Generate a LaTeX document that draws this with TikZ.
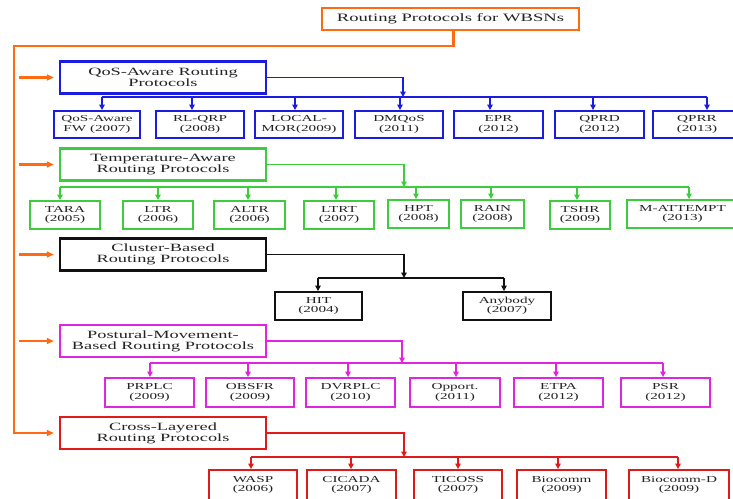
\documentclass[tikz,border=0pt]{standalone}
\usepackage{fontspec}
\setmainfont[FakeStretch=1.65]{Liberation Serif}
\usetikzlibrary{arrows.meta}
\definecolor{cor}{HTML}{FF6A13}
\definecolor{cbl}{HTML}{1C1CE0}
\definecolor{cgr}{HTML}{3ECB3E}
\definecolor{cbk}{HTML}{111111}
\definecolor{cmg}{HTML}{E024E0}
\definecolor{crd}{HTML}{E01A1A}
\definecolor{ctx}{HTML}{222222}
\newcommand\kidbox[7]{\node[kid,draw=#7,minimum width={#3-#2},minimum height={#5-#4}] (#1) at ({(#2+#3)/2},{(#4+#5)/2}) {#6};}
\newcommand\dropto[4]{\draw[arr,#1] (#2,#3) -- (#4.north -| #2,0);}
\begin{document}
\begin{tikzpicture}[x=1pt,y=-1pt,
  box/.style={line width=2pt,inner sep=0pt,align=center,text=ctx},
  grp/.style={box,draw,line width=2.4pt,minimum width=206pt,minimum height=32pt,font=\fontsize{11.1}{11.2}\selectfont},
  kid/.style={box,line width=1.9pt,font=\fontsize{9.2}{9.5}\selectfont},
  con/.style={line width=1.8pt},
  arr/.style={con,-{Triangle[length=5.5pt,width=5.5pt]}},
  oarr/.style={line width=2.2pt,cor,-{Triangle[length=7pt,width=6pt]},shorten >=5pt},
]
\useasboundingbox (0,0) rectangle (733,498);

% root
\node[box,draw=cor,minimum width=257pt,minimum height=22pt,font=\fontsize{11.3}{12}\selectfont] (root) at (450.5,19) {Routing Protocols for WBSNs};

% groups
\node[grp,draw=cbl] (qos) at (163,77.5) {QoS-Aware Routing\\Protocols};
\node[grp,draw=cgr] (tmp) at (163,164.5) {Temperature-Aware\\Routing Protocols};
\node[grp,draw=cbk] (clu) at (163,254.5) {Cluster-Based\\Routing Protocols};
\node[grp,draw=cmg] (pos) at (163,341) {Postural-Movement-\\Based Routing Protocols};
\node[grp,draw=crd] (crs) at (163,433) {Cross-Layered\\Routing Protocols};

% orange trunk
\coordinate (tk) at (14,46);
\draw[oarr] ([xshift=3pt]root.south) |- (tk) |- (crs.west);
\foreach \g in {qos,tmp,clu,pos}{
  \draw[oarr] ([xshift=5pt]\g.west -| tk) -- (\g.west);
}

% QoS children
\kidbox{q1}{54}{140}{111}{138}{QoS-Aware\\FW (2007)}{cbl}
\kidbox{q2}{156}{244}{111}{138}{RL-QRP\\(2008)}{cbl}
\kidbox{q3}{255}{343}{111}{138}{LOCAL-\\MOR(2009)}{cbl}
\kidbox{q4}{355}{443}{111}{138}{DMQoS\\(2011)}{cbl}
\kidbox{q5}{454}{543}{111}{138}{EPR\\(2012)}{cbl}
\kidbox{q6}{555}{644}{111}{138}{QPRD\\(2012)}{cbl}
\kidbox{q7}{653}{741}{111}{138}{QPRR\\(2013)}{cbl}
\coordinate (qb) at (403,97);
\draw[arr,cbl] (qos.east) -| (qb);
\draw[con,cbl] (102,97) -- (707,97);
\dropto{cbl}{102}{97}{q1}
\dropto{cbl}{192}{97}{q2}
\dropto{cbl}{295}{97}{q3}
\dropto{cbl}{400}{97}{q4}
\dropto{cbl}{490}{97}{q5}
\dropto{cbl}{593}{97}{q6}
\dropto{cbl}{707}{97}{q7}

% Temperature children
\kidbox{t1}{30}{100}{201}{229}{TARA\\(2005)}{cgr}
\kidbox{t2}{123}{193}{201}{229}{LTR\\(2006)}{cgr}
\kidbox{t3}{214}{285}{201}{229}{ALTR\\(2006)}{cgr}
\kidbox{t4}{304}{374}{201}{229}{LTRT\\(2007)}{cgr}
\kidbox{t5}{388}{449}{200}{228}{HPT\\(2008)}{cgr}
\kidbox{t6}{461}{524}{200}{228}{RAIN\\(2008)}{cgr}
\kidbox{t7}{550}{610}{201}{229}{TSHR\\(2009)}{cgr}
\kidbox{t8}{627}{738}{200}{228}{M-ATTEMPT\\(2013)}{cgr}
\coordinate (tb) at (404,187);
\draw[arr,cgr] (tmp.east) -| (tb);
\draw[con,cgr] (60,187) -- (689,187);
\dropto{cgr}{60}{187}{t1}
\dropto{cgr}{158}{187}{t2}
\dropto{cgr}{248}{187}{t3}
\dropto{cgr}{336}{187}{t4}
\dropto{cgr}{416}{187}{t5}
\dropto{cgr}{491}{187}{t6}
\dropto{cgr}{577}{187}{t7}
\dropto{cgr}{689}{187}{t8}

% Cluster children
\kidbox{c1}{275}{362}{292}{320}{HIT\\(2004)}{cbk}
\kidbox{c2}{463}{551}{292}{320}{Anybody\\(2007)}{cbk}
\coordinate (cb) at (404,278);
\draw[arr,cbk] (clu.east) -| (cb);
\draw[con,cbk] (318,278) -- (504,278);
\dropto{cbk}{318}{278}{c1}
\dropto{cbk}{504}{278}{c2}

% Postural children
\kidbox{p1}{105}{194}{378}{407}{PRPLC\\(2009)}{cmg}
\kidbox{p2}{206}{294}{378}{407}{OBSFR\\(2009)}{cmg}
\kidbox{p3}{306}{395}{378}{407}{DVRPLC\\(2010)}{cmg}
\kidbox{p4}{410}{500}{378}{407}{Opport.\\(2011)}{cmg}
\kidbox{p5}{514}{603}{378}{407}{ETPA\\(2012)}{cmg}
\kidbox{p6}{621}{710}{378}{407}{PSR\\(2012)}{cmg}
\coordinate (pb) at (402,363);
\draw[arr,cmg] (pos.east) -| (pb);
\draw[con,cmg] (150,363) -- (663,363);
\dropto{cmg}{150}{363}{p1}
\dropto{cmg}{248}{363}{p2}
\dropto{cmg}{348}{363}{p3}
\dropto{cmg}{456}{363}{p4}
\dropto{cmg}{556}{363}{p5}
\dropto{cmg}{663}{363}{p6}

% Cross-layered children
\kidbox{r1}{209}{297}{470}{500}{WASP\\(2006)}{crd}
\kidbox{r2}{307}{396}{470}{500}{CICADA\\(2007)}{crd}
\kidbox{r3}{414}{502}{470}{500}{TICOSS\\(2007)}{crd}
\kidbox{r4}{517}{606}{470}{500}{Biocomm\\(2009)}{crd}
\kidbox{r5}{629}{729}{470}{500}{Biocomm-D\\(2009)}{crd}
\coordinate (rb) at (404,457);
\draw[arr,crd] (crs.east) -| (rb);
\draw[con,crd] (251,457) -- (678,457);
\dropto{crd}{251}{457}{r1}
\dropto{crd}{351}{457}{r2}
\dropto{crd}{458}{457}{r3}
\dropto{crd}{558}{457}{r4}
\dropto{crd}{678}{457}{r5}
\end{tikzpicture}
\end{document}
